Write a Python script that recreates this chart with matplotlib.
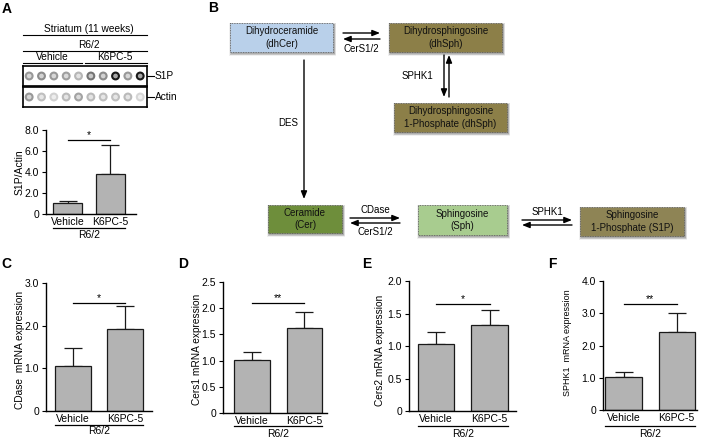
import matplotlib
matplotlib.use('Agg')
import matplotlib.pyplot as plt
from matplotlib.patches import Rectangle
from matplotlib.transforms import blended_transform_factory

plt.rcParams['font.family'] = ['Liberation Sans', 'DejaVu Sans']

W, H = 708, 440

# ---------------- data ----------------
groups = ['Vehicle', 'K6PC-5']
genotype = 'R6/2'

s1p_mean = [1.0, 3.8]
s1p_err = [0.25, 2.75]
cdase_mean = [1.05, 1.92]
cdase_err = [0.43, 0.54]
cers1_mean = [1.02, 1.63]
cers1_err = [0.14, 0.30]
cers2_mean = [1.03, 1.33]
cers2_err = [0.18, 0.22]
sphk1_mean = [1.02, 2.43]
sphk1_err = [0.15, 0.59]

# dot-blot signal intensity per lane (0 = none, 1 = darkest)
blot_s1p = [0.45, 0.5, 0.45, 0.42, 0.32, 0.6, 0.5, 1.0, 0.45, 1.0]
blot_actin = [0.45, 0.28, 0.2, 0.3, 0.4, 0.3, 0.28, 0.28, 0.3, 0.18]

# ---------------- figure ----------------
fig = plt.figure(figsize=(W / 100, H / 100), dpi=100)
ov = fig.add_axes([0, 0, 1, 1])
ov.set_xlim(0, W)
ov.set_ylim(H, 0)
ov.axis('off')
ov.patch.set_alpha(0)


def px_axes(l, t, r, b):
    return fig.add_axes([l / W, 1 - b / H, (r - l) / W, (b - t) / H])


# panel letters
for lab, x, y in [('A', 7, 9), ('B', 213, 8), ('C', 6, 264), ('D', 183, 264),
                  ('E', 367, 264), ('F', 552, 264)]:
    ov.text(x, y, lab, fontsize=10, fontweight='bold', ha='center', va='center')

# ---------------- Panel A: dot blot ----------------
ov.text(89, 29, 'Striatum (11 weeks)', fontsize=7.3, ha='center', va='center')
ov.plot([23, 147], [35, 35], color='k', lw=0.8)
ov.text(89, 45, genotype, fontsize=7.3, ha='center', va='center')
ov.plot([23, 147], [51, 51], color='k', lw=0.8)
ov.text(52, 57, groups[0], fontsize=7.3, ha='center', va='center')
ov.plot([23, 82], [63, 63], color='k', lw=0.8)
ov.text(115, 57, groups[1], fontsize=7.3, ha='center', va='center')
ov.plot([85, 147], [63, 63], color='k', lw=0.8)

for (t, b), vals, name in [((66, 86), blot_s1p, 'S1P'), ((87, 107), blot_actin, 'Actin')]:
    bax = px_axes(23, t, 147, b)
    lanes = list(range(len(vals)))
    face = [str(1 - 0.35 * v) for v in vals]
    edge = [str(max(0.0, 1 - 0.9 * v)) for v in vals]
    bax.scatter(lanes, [0] * len(vals), s=24, c=face, edgecolors=edge, linewidths=1.5)
    bax.set_xlim(-0.5, 9.55)
    bax.set_ylim(-1, 1)
    bax.set_xticks([])
    bax.set_yticks([])
    for sp in bax.spines.values():
        sp.set_linewidth(1.2)
    yc = (t + b) / 2
    ov.plot([147, 154], [yc, yc], color='k', lw=0.8)
    ov.text(155, yc, name, fontsize=7.3, ha='left', va='center')


# ---------------- bar panels ----------------
def bar_panel(box, xlim, ylim, yticks, yticklabels, means, errs, stars, sig_y,
              ylabel, ylabel_xy, ylabel_size, underline_y, geno_y):
    ax = px_axes(*box)
    x = [0, 1]
    bw = 0.68
    ax.errorbar(x, means, yerr=[[0, 0], errs], fmt='none', ecolor='#1a1a1a',
                elinewidth=0.9, capsize=6.5, capthick=0.9, zorder=1)
    ax.bar(x, means, width=bw, color='#b3b3b3', edgecolor='#1a1a1a',
           linewidth=0.9, zorder=2)
    ax.plot(x, [sig_y, sig_y], color='k', lw=0.9)
    ax.text(0.5, sig_y, stars, ha='center', va='bottom', fontsize=7.5)
    ax.set_xlim(*xlim)
    ax.set_ylim(*ylim)
    ax.set_yticks(yticks)
    ax.set_yticklabels(yticklabels)
    ax.set_xticks(x)
    ax.set_xticklabels(groups)
    ax.tick_params(axis='y', direction='out', length=3, width=0.8, labelsize=7.5, pad=2)
    ax.tick_params(axis='x', length=0, labelsize=7.5, pad=2)
    for s in ['top', 'right']:
        ax.spines[s].set_visible(False)
    for s in ['left', 'bottom']:
        ax.spines[s].set_linewidth(1.0)
    ax.patch.set_alpha(0)
    ax.set_ylabel(ylabel, fontsize=ylabel_size, va='center')
    ax.yaxis.set_label_coords(ylabel_xy[0], ylabel_xy[1], transform=ov.transData)
    trans = blended_transform_factory(ax.transData, ov.transData)
    ax.plot([-bw / 2, 1 + bw / 2], [underline_y, underline_y], color='k', lw=0.9,
            transform=trans, clip_on=False)
    ax.text(0.5, geno_y, genotype, transform=trans, ha='center', va='center', fontsize=7.5)
    return ax


bar_panel((46, 130, 136, 214), (-0.506, 1.61), (0, 8), [0, 2, 4, 6, 8],
          ['0', '2.0', '4.0', '6.0', '8.0'], s1p_mean, s1p_err, '*', 7.05,
          'S1P/Actin', (20, 172), 7.5, 228, 235)

bar_panel((46, 283, 152, 411), (-0.52, 1.52), (0, 3), [0, 1, 2, 3],
          ['0', '1.0', '2.0', '3.0'], cdase_mean, cdase_err, '*', 2.53,
          'CDase  mRNA expression', (20, 350), 7.3, 425, 431)

bar_panel((223, 282, 327, 413), (-0.55, 1.43), (0, 2.5), [0, 0.5, 1, 1.5, 2, 2.5],
          ['0', '0.5', '1.0', '1.5', '2.0', '2.5'], cers1_mean, cers1_err, '**', 2.1,
          'Cers1 mRNA expression', (197, 349), 7.3, 426, 434)

bar_panel((409, 281, 516, 411), (-0.505, 1.495), (0, 2.0), [0, 0.5, 1, 1.5, 2],
          ['0', '0.5', '1.0', '1.5', '2.0'], cers2_mean, cers2_err, '*', 1.65,
          'Cers2 mRNA expression', (380, 350), 7.3, 426, 434)

bar_panel((603, 281, 697, 410), (-0.387, 1.386), (0, 4), [0, 1, 2, 3, 4],
          ['0', '1.0', '2.0', '3.0', '4.0'], sphk1_mean, sphk1_err, '**', 3.28,
          'SPHK1  mRNA expression', (568, 343), 6.5, 426, 434)

# ---------------- Panel B: pathway diagram ----------------
boxes = [
    ('Dihydroceramide\n(dhCer)', 230, 23, 333, 52, '#b9d0ea'),
    ('Dihydrosphingosine\n(dhSph)', 389, 23, 502, 52, '#8c7f48'),
    ('Dihydrosphingosine\n1-Phosphate (dhSph)', 394, 103, 507, 132, '#8c7f48'),
    ('Ceramide\n(Cer)', 268, 205, 342, 233, '#6e8e3b'),
    ('Sphingosine\n(Sph)', 418, 205, 507, 235, '#a8cc8f'),
    ('Sphingosine\n1-Phosphate (S1P)', 580, 207, 684, 236, '#8e8455'),
]
for text, x0, y0, x1, y1, col in boxes:
    for k, a in [(4, 0.06), (3, 0.08), (2, 0.1), (1, 0.12)]:
        ov.add_patch(Rectangle((x0 + 1 - k * 0.5, y0 + 2 - k * 0.5), x1 - x0 + k, y1 - y0 + k,
                               facecolor='black', edgecolor='none', alpha=a, zorder=1))
    ov.add_patch(Rectangle((x0, y0), x1 - x0, y1 - y0, facecolor=col,
                           edgecolor='#555555', linestyle=(0, (1, 1)), lw=0.6, zorder=2))
    ov.text((x0 + x1) / 2, (y0 + y1) / 2, text, ha='center', va='center',
            fontsize=7, linespacing=1.3, zorder=3, color='#111111')


def arrow(x0, y0, x1, y1):
    ov.annotate('', xy=(x1, y1), xytext=(x0, y0),
                arrowprops=dict(arrowstyle='-|>,head_length=0.45,head_width=0.18',
                                lw=1.0, color='black', shrinkA=0, shrinkB=0))


arrow(343, 33, 380, 33)
arrow(380, 39, 343, 39)
ov.text(361, 49, 'CerS1/2', fontsize=7, ha='center', va='center')

arrow(444, 55, 444, 97)
arrow(449, 97, 449, 55)
ov.text(417, 76, 'SPHK1', fontsize=7, ha='center', va='center')

arrow(304, 60, 304, 199)
ov.text(288, 123, 'DES', fontsize=7, ha='center', va='center')

arrow(350, 218, 400, 218)
arrow(400, 223, 350, 223)
ov.text(375, 210, 'CDase', fontsize=7, ha='center', va='center')
ov.text(375, 232, 'CerS1/2', fontsize=7, ha='center', va='center')

arrow(522, 220, 572, 220)
arrow(572, 225, 522, 225)
ov.text(547, 212, 'SPHK1', fontsize=7, ha='center', va='center')

fig.savefig('out.png', dpi=100)
